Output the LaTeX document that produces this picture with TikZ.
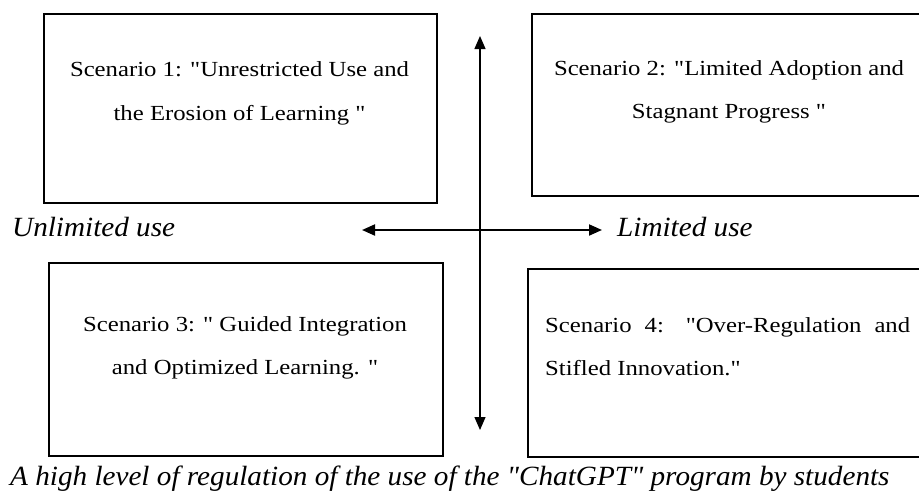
\documentclass[tikz,border=0pt]{standalone}
\usepackage{fontspec}
\newfontfamily\boxfont{Liberation Serif}[FakeStretch=1.15]
\newfontfamily\labelfont{Liberation Serif}[FakeStretch=1.05]
\usetikzlibrary{arrows.meta,calc}

\tikzset{
  scenbox/.style={draw, line width=1.5pt, anchor=north west, inner sep=0pt},
  scentext/.style={font=\boxfont\fontsize{21.5}{43}\selectfont, inner sep=0pt},
  axislabel/.style={font=\labelfont\fontsize{27.8}{30}\selectfont\itshape, anchor=base west, inner sep=0pt},
  axisline/.style={{Triangle[length=13pt,width=11pt]}-{Triangle[length=13pt,width=11pt]}}
}

\begin{document}
\begin{tikzpicture}[x=1pt,y=-1pt]
    \useasboundingbox (0,0) rectangle (919,493);
    \clip (0,0) rectangle (919,493);
    % the four scenario boxes
    \node[scenbox, minimum width=393pt, minimum height=189pt] (box1) at (43,13) {};
    \node[scenbox, minimum width=394pt, minimum height=182pt] (box2) at (531,13) {};
    \node[scenbox, minimum width=394pt, minimum height=193pt] (box3) at (48,262) {};
    \node[scenbox, minimum width=401pt, minimum height=188pt] (box4) at (527,268) {};
    % texts in the boxes
    \node[scentext, align=center, anchor=north] (txt1) at (239.5,61) {Scenario 1: "Unrestricted Use and\\[1pt]the Erosion of Learning "};
    \node[scentext, align=center, anchor=north] (txt2) at (729,60) {Scenario 2: "Limited Adoption and\\Stagnant Progress "};
    \node[scentext, align=center, anchor=north] (txt3) at (245,316) {Scenario 3: " Guided Integration\\and Optimized Learning. "};
    \node[scentext, align=left, anchor=north west] (txt4) at (545,317) {\makebox[365pt][s]{Scenario 4: "Over-Regulation and}\\Stifled Innovation."};
    % the two axes
    \coordinate (up) at (480,36);
    \coordinate (down) at (480,430);
    \coordinate (left) at (362,230);
    \coordinate (right) at (602,230);
    \draw[axisline, line width=1.2pt] (down) -- (up);
    \draw[axisline, line width=2pt] (left) -- (right);
    % axis labels
    \node[axislabel] (unlim) at (12,236) {Unlimited use};
    \node[axislabel] (lim) at (617,236) {Limited use};
    \node[axislabel] (caption) at (10,485) {A high level of regulation of the use of the "ChatGPT" program by students};
\end{tikzpicture}
\end{document}
